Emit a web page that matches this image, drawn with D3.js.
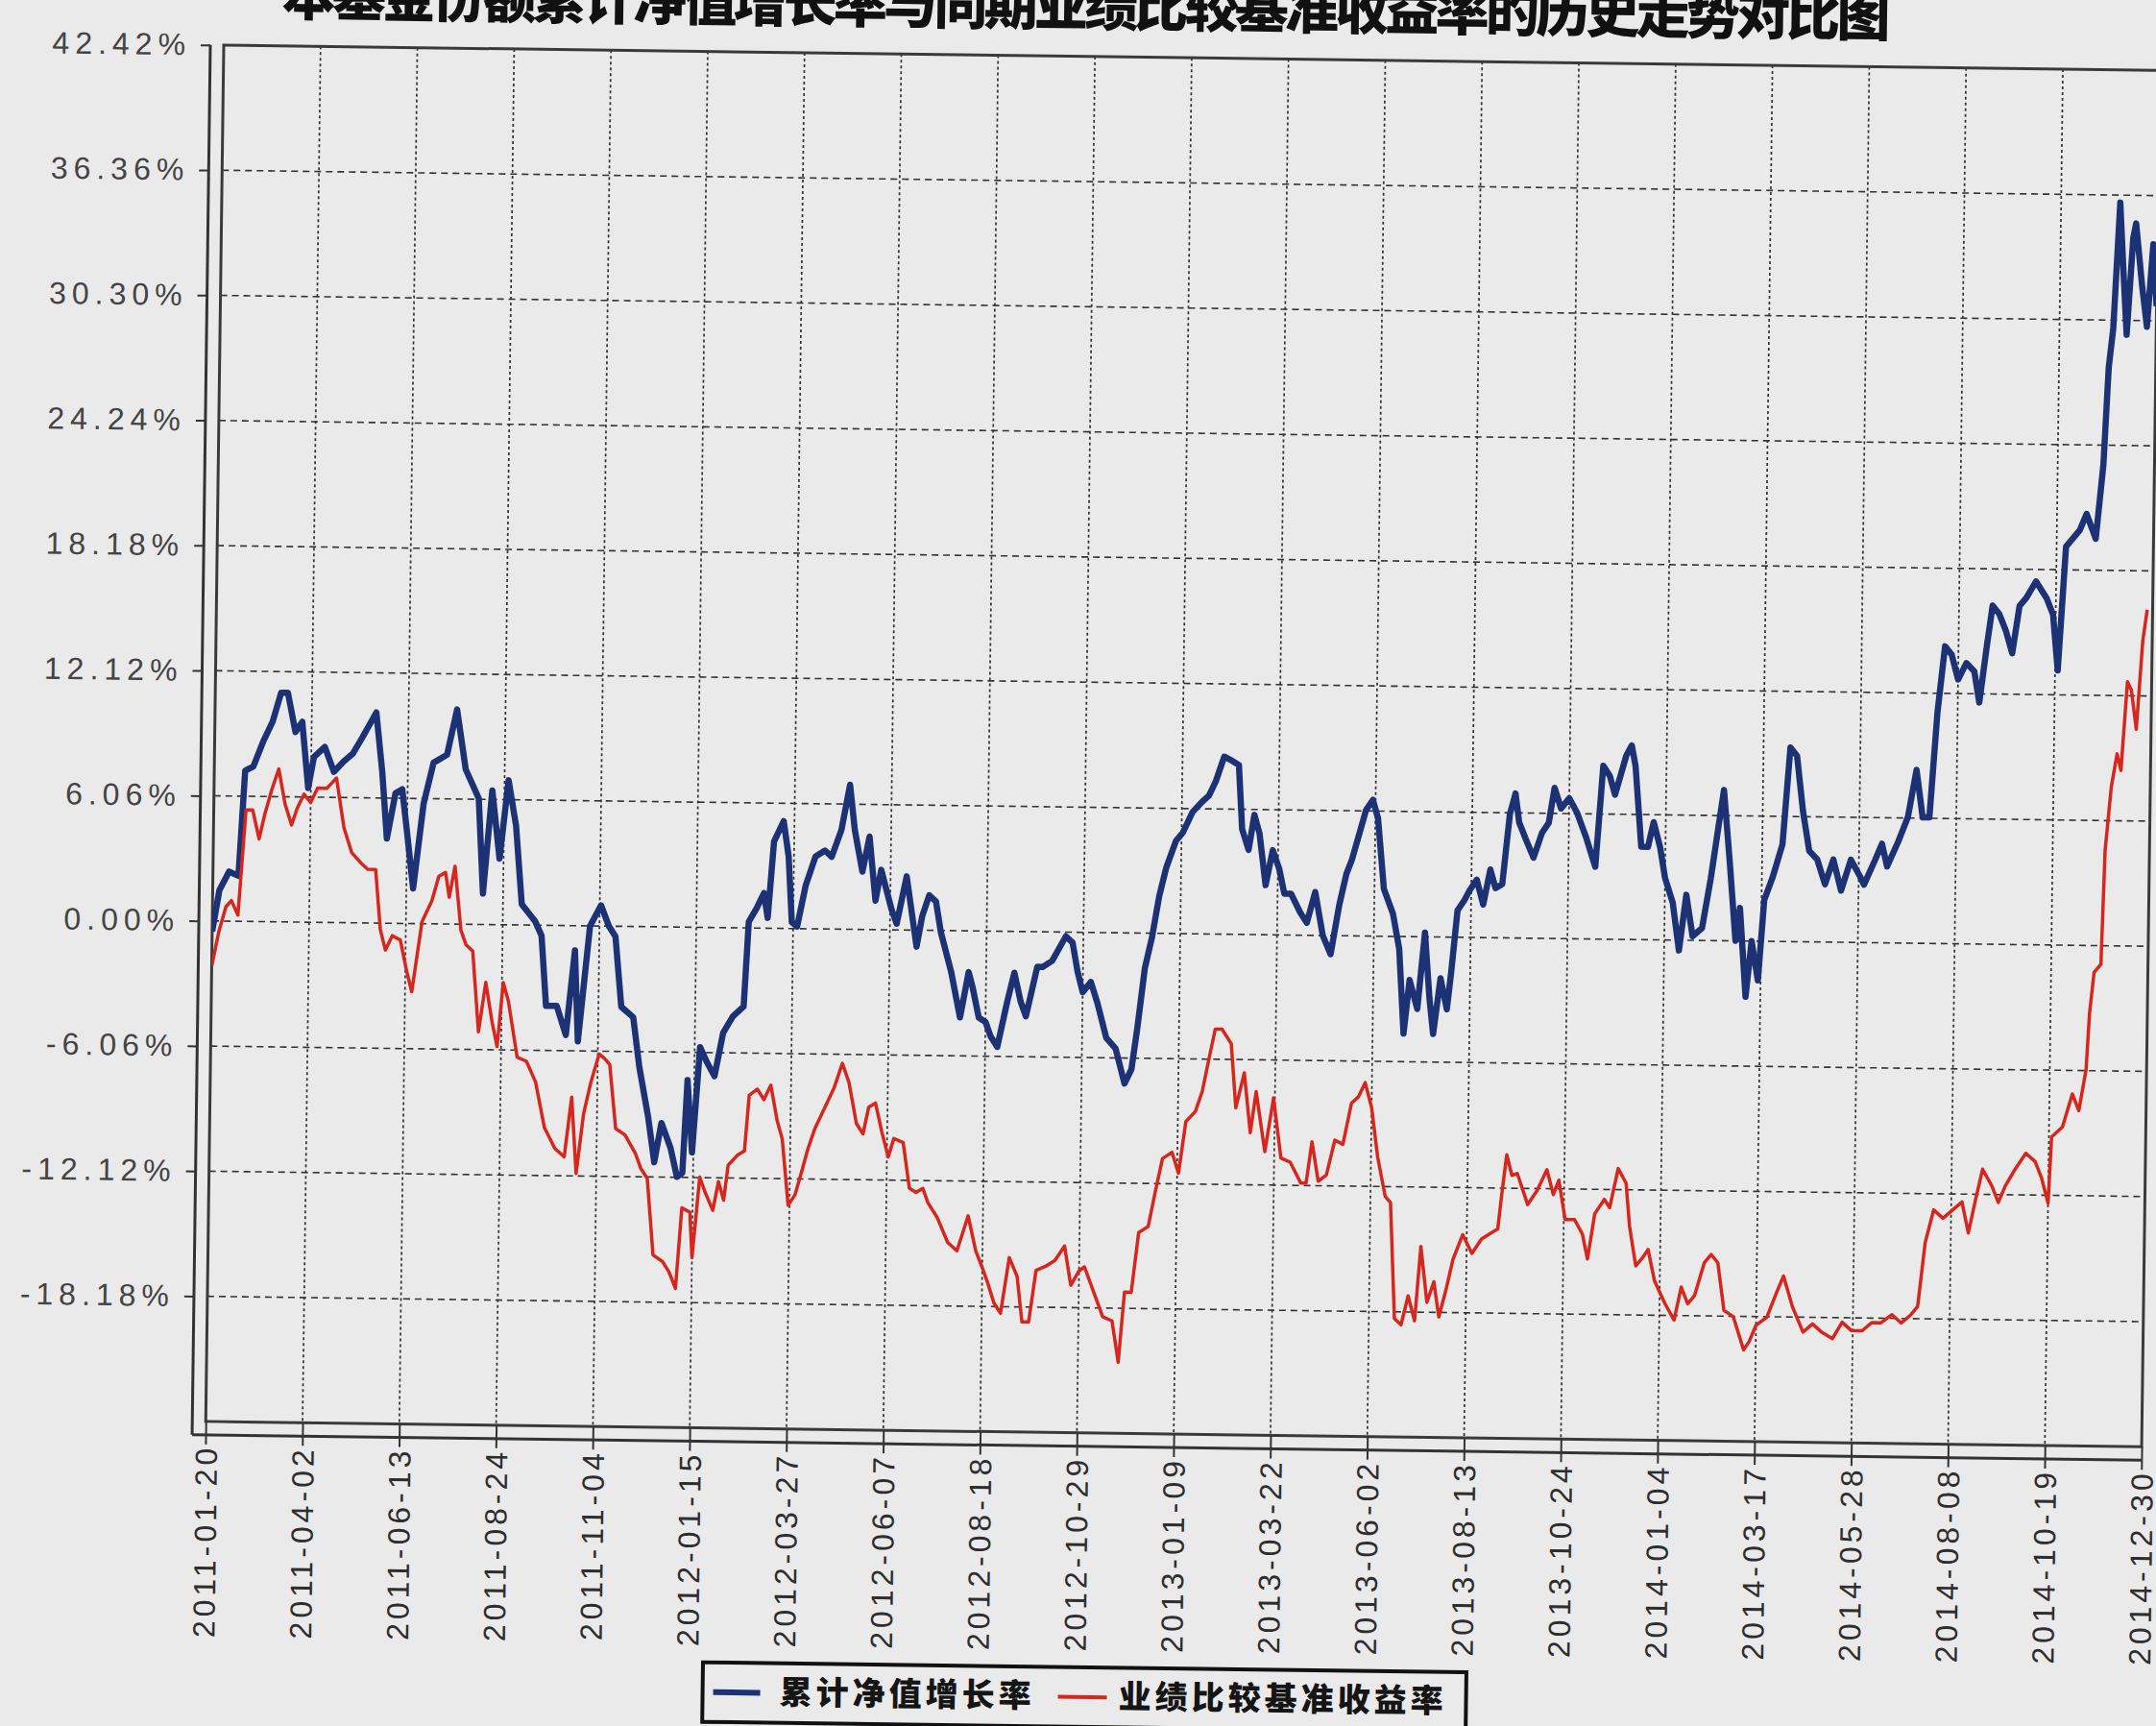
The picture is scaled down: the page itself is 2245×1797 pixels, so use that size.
<!DOCTYPE html>
<html><head><meta charset="utf-8">
<script src="https://cdn.jsdelivr.net/npm/d3@7"></script>
<style>
html,body{margin:0;padding:0;background:#eaeaeb;overflow:hidden}
svg{display:block}
</style></head><body>
<svg id="chart" width="2245" height="1797"></svg>
<script>
// ---------------- data ----------------
const titleText = "本基金份额累计净值增长率与同期业绩比较基准收益率的历史走势对比图";
const seriesNames = ["累计净值增长率", "业绩比较基准收益率"];
const startDate = "2011-01-20";
const xTickLabels = ["2011-01-20","2011-04-02","2011-06-13","2011-08-24","2011-11-04","2012-01-15","2012-03-27","2012-06-07","2012-08-18","2012-10-29","2013-01-09","2013-03-22","2013-06-02","2013-08-13","2013-10-24","2014-01-04","2014-03-17","2014-05-28","2014-08-08","2014-10-19","2014-12-30"];
const yTickLabels = ["42.42%","36.36%","30.30%","24.24%","18.18%","12.12%","6.06%","0.00%","-6.06%","-12.12%","-18.18%"];
const yTickValues = [42.42,36.36,30.30,24.24,18.18,12.12,6.06,0,-6.06,-12.12,-18.18];
const yDomain = [-24.24, 42.42];

// 累计净值增长率 (days after start date, value in %)
const navDays = [0,5,12,19,23,29,36,43,49,54,60,65,70,74,82,89,96,103,110,120,125,129,135,140,144,149,156,163,173,180,187,197,201,207,213,219,225,230,240,245,249,257,264,270,273,281,289,295,300,305,314,319,326,331,336,343,348,352,355,359,
364,369,375,381,388,396,399,405,410,413,417,424,428,431,435,441,448,455,460,467,473,477,483,488,493,497,505,509,516,524,528,533,538,542,550,557,563,566,571,576,580,585,592,597,602,606,614,618,625,635,640,644,648,654,659,666,673,680,685,689,694,699,704,
709,716,721,728,735,740,745,751,757,762,765,770,774,778,783,788,793,797,802,809,814,820,826,832,838,843,847,852,857,862,866,871,878,883,887,891,897,902,906,909,914,919,922,926,931,935,940,945,950,954,959,964,968,971,976,982,988,993,997,1002,1008,1014,1021,1028,1033,1038,1042,1050,1054,
1057,1062,1067,1071,1076,1080,1086,1091,1096,1101,1108,1114,1119,1123,1128,1133,1136,1141,1145,1150,1154,1160,1167,1172,1177,1182,1187,1193,1199,1205,1211,1218,1225,1228,1236,1241,1245,1253,1260,1266,1271,1276,1281,1286,1291,1296,1302,1308,1312,1317,1321,1326,1331,1336,1341,1346,1353,1361,1366,1370,1375,1380,1385,1390,1397,1402,1405,1408,1412,1415,1418,1422,1424,1429,1433,1437,1440];
const navValues = [-0.5,1.5,2.4,2.2,7.3,7.5,8.7,9.7,11.1,11.1,9.2,9.7,6.5,8.0,8.5,7.3,7.8,8.2,9.0,10.2,7.3,4.1,6.3,6.5,4.4,1.7,5.8,7.8,8.2,10.4,7.5,6.1,1.5,6.5,3.2,7.0,4.8,1.0,0.2,-0.5,-3.9,-3.9,-5.3,-1.2,-5.6,0.0,1.0,0.0,-0.5,-3.9,-4.4,-6.8,-9.2,-11.4,-9.5,-10.7,-12.1,-11.9,-7.4,-10.9,
-5.8,-6.5,-7.2,-5.1,-4.3,-3.8,0.3,1.0,1.7,0.5,4.2,5.2,3.5,0.3,0.1,2.1,3.5,3.8,3.5,4.8,7.0,4.8,2.8,4.5,1.4,2.9,1.0,0.3,2.6,-0.8,0.7,1.7,1.4,-0.1,-2.0,-4.2,-2.0,-2.7,-4.2,-4.4,-5.1,-5.6,-3.4,-2.0,-3.4,-4.1,-1.7,-1.7,-1.4,-0.2,-0.5,-1.9,-2.9,-2.4,-3.4,-5.1,-5.6,-7.3,-6.6,-4.6,-1.7,-0.2,1.8,
3.2,4.5,4.9,5.9,6.4,6.7,7.4,8.6,8.4,8.2,5.1,4.1,5.8,4.9,2.4,4.1,3.2,2.0,2.0,1.1,0.6,2.1,0.0,-0.9,1.5,3.0,3.7,4.9,6.1,6.6,5.7,2.3,1.1,-0.6,-4.7,-2.1,-3.5,0.2,-3.0,-4.7,-2.0,-3.5,-1.6,1.3,1.8,2.3,2.8,1.6,3.3,2.4,2.6,6.0,7.0,5.6,4.8,3.9,5.1,5.6,7.3,6.3,6.8,6.1,4.9,3.5,8.4,7.9,7.0,8.9,9.4,
8.4,4.5,4.5,5.7,4.5,3.0,1.8,-0.5,2.2,0.2,0.6,3.0,5.4,7.3,3.8,0.0,1.6,-2.7,0.0,-1.9,2.0,3.1,4.7,9.4,9.0,6.3,4.4,4.0,2.8,4.0,2.5,4.0,3.2,2.8,4.0,4.8,3.7,4.9,6.1,8.4,6.1,6.1,11.2,14.4,14.0,12.8,13.6,13.2,11.7,14.4,16.4,16.0,15.2,14.1,16.4,16.8,17.6,16.8,16.0,13.3,19.3,19.7,20.1,20.9,19.7,23.3,28.0,29.9,36.0,32.7,29.6,34.3,35.0,32.0,30.0,34.0,31.0];

// 业绩比较基准收益率
const benchDays = [0,5,10,14,19,24,29,34,38,43,48,53,58,62,67,72,77,84,91,97,103,110,115,121,125,129,134,140,145,149,156,163,168,173,176,180,185,189,194,199,204,209,213,217,221,228,235,242,249,257,264,269,273,278,283,289,293,297,302,309,317,321,326,331,338,343,348,352,358,360,
365,369,375,379,383,386,393,398,401,407,412,417,422,426,431,436,441,445,450,457,464,470,475,481,486,490,495,500,505,509,516,521,526,531,535,542,550,557,565,571,576,580,585,590,596,602,606,611,616,623,630,637,642,648,652,659,666,673,678,682,687,692,699,704,
709,716,721,726,733,738,743,747,752,759,763,769,774,778,785,791,797,804,812,816,820,825,831,837,843,849,854,859,864,869,875,879,883,888,893,898,902,907,912,916,921,926,933,940,947,954,959,962,965,969,973,981,988,995,1000,1004,1009,1016,1022,1026,1031,1038,1042,1048,1054,
1057,1062,1067,1071,1076,1084,1091,1096,1101,1106,1113,1118,1123,1128,1135,1143,1147,1152,1160,1167,1172,1179,1187,1194,1201,1209,1216,1223,1231,1238,1245,1253,1260,1267,1272,1277,1283,1290,1297,1304,1309,1314,1319,1326,1331,1336,1343,1351,1358,1363,1368,1370,1378,1385,1390,1395,1397,1400,1405,1407,1411,1415,1418,1422,1425,1429,1433,1436];
const benchValues = [-2.2,-0.5,0.7,1.0,0.3,5.4,5.4,4.0,5.2,6.4,7.4,5.7,4.7,5.5,6.2,5.8,6.5,6.5,7.0,4.6,3.4,2.9,2.6,2.6,-0.3,-1.3,-0.6,-0.8,-2.3,-3.3,0.1,1.1,2.3,2.5,1.3,2.8,-0.3,-1.0,-1.3,-5.2,-2.8,-4.7,-5.9,-2.8,-3.7,-6.4,-6.6,-7.6,-9.8,-10.8,-11.2,-8.3,-12.0,-9.1,-7.6,-6.2,-6.4,-6.7,-9.8,-10.1,-11.0,-11.7,-12.2,-15.9,-16.2,-16.7,-17.5,-13.6,-13.8,-16.0,
-12.1,-12.8,-13.7,-12.3,-13.2,-11.5,-11.0,-10.8,-8.1,-7.8,-8.3,-7.6,-9.3,-10.2,-13.4,-12.9,-11.7,-10.7,-9.7,-8.7,-7.7,-6.5,-7.4,-9.4,-9.9,-8.6,-8.4,-9.8,-11.0,-10.1,-10.3,-12.5,-12.7,-12.5,-13.2,-13.9,-15.1,-15.5,-13.8,-15.5,-16.3,-17.0,-18.0,-18.5,-15.8,-16.7,-18.9,-18.9,-16.4,-16.2,-15.9,-15.2,-17.1,-16.4,-16.2,-17.4,-18.6,-18.8,-20.8,-17.4,-17.4,-14.5,-14.2,-12.5,
-10.9,-10.6,-11.6,-9.1,-8.6,-7.6,-5.9,-4.6,-4.6,-5.3,-8.4,-6.7,-9.6,-7.6,-10.5,-7.9,-10.8,-11.0,-12.0,-12.0,-10.0,-11.9,-11.6,-9.9,-10.1,-8.1,-7.8,-7.1,-8.3,-10.7,-12.6,-12.9,-18.5,-18.8,-17.4,-18.6,-15.0,-17.7,-16.7,-18.4,-17.1,-15.6,-14.4,-15.3,-14.6,-14.3,-14.1,-12.2,-10.5,-11.5,-11.4,-12.9,-12.2,-11.2,-12.4,-11.7,-13.6,-13.6,-14.3,-15.5,-13.3,-12.6,-13.0,-11.1,-11.8,
-13.9,-15.8,-15.4,-15.0,-16.5,-17.6,-18.4,-16.8,-17.6,-17.2,-15.6,-15.2,-15.6,-17.9,-18.2,-19.8,-19.4,-18.6,-18.2,-17.0,-16.2,-17.7,-18.9,-18.5,-18.9,-19.2,-18.4,-18.8,-18.8,-18.4,-18.4,-18.0,-18.4,-18.0,-17.6,-14.5,-12.9,-13.3,-12.9,-12.5,-14.0,-12.4,-10.9,-11.7,-12.5,-11.7,-10.9,-10.1,-10.5,-11.3,-12.5,-9.3,-8.8,-7.2,-8.0,-6.0,-3.3,-1.3,-0.9,4.6,7.7,9.3,8.5,12.8,12.4,10.5,14.8,16.3];

// ---------------- layout ----------------
const PL = 233, PT = 47, PW = 2016, PH = 1433, OFF = 14, ROT = 0.75;
const BG = "#eaeaeb";

const parse = d3.timeParse("%Y-%m-%d");
const t0 = parse(startDate);
const tickDates = xTickLabels.map(parse);
const x = d3.scaleTime().domain([tickDates[0], tickDates[tickDates.length - 1]]).range([0, PW]);
const y = d3.scaleLinear().domain(yDomain).range([PH, 0]);

const svg = d3.select("#chart");
svg.append("rect").attr("width", 2245).attr("height", 1797).attr("fill", BG);

const root = svg.append("g").attr("transform", `rotate(${ROT},${PL},${PT})`);

// title (partly cut by the top edge, as in the scan)
root.append("text")
  .attr("x", 293).attr("y", 15)
  .attr("textLength", 1675).attr("lengthAdjust", "spacing")
  .attr("font-family", "'Noto Sans CJK SC', sans-serif")
  .attr("font-weight", 900).attr("font-size", 56).attr("fill", "#111")
  .text(titleText);

const g = root.append("g").attr("transform", `translate(${PL},${PT})`);

svg.append("defs").append("clipPath").attr("id", "clip")
  .append("rect").attr("x", 0).attr("y", 0).attr("width", PW).attr("height", PH);

// grid
const gridColor = "#333";
g.append("g").selectAll("line").data(yTickValues.filter(v => v < yDomain[1] && v > yDomain[0]))
  .join("line")
  .attr("x1", 0).attr("x2", PW).attr("y1", d => y(d)).attr("y2", d => y(d))
  .attr("stroke", gridColor).attr("stroke-width", 1.6).attr("stroke-dasharray", "7,5");
g.append("g").selectAll("line").data(tickDates.slice(1, -1))
  .join("line")
  .attr("x1", d => x(d)).attr("x2", d => x(d)).attr("y1", 0).attr("y2", PH)
  .attr("stroke", gridColor).attr("stroke-width", 1.7).attr("stroke-dasharray", "3,3");

// frame
g.append("rect").attr("x", 0).attr("y", 0).attr("width", PW).attr("height", PH)
  .attr("fill", "none").attr("stroke", "#3a3a3a").attr("stroke-width", 3);

// y axis (offset)
const yAxis = d3.axisLeft(y).tickValues(yTickValues)
  .tickFormat((d, i) => yTickLabels[i]).tickSize(10).tickSizeOuter(0).tickPadding(10);
const ya = g.append("g").attr("transform", `translate(${-OFF},0)`).call(yAxis);
ya.select(".domain").remove();
ya.append("line").attr("x1", 0).attr("x2", 0).attr("y1", 0).attr("y2", PH + OFF)
  .attr("stroke", "#333").attr("stroke-width", 3);
ya.selectAll(".tick line").attr("stroke", "#333").attr("stroke-width", 2);
ya.selectAll(".tick text")
  .attr("font-family", "'Liberation Sans', Arial, sans-serif")
  .attr("font-size", 32).attr("letter-spacing", 6).attr("fill", "#444")
  .attr("dx", 0);

// x axis (offset)
const xAxis = d3.axisBottom(x).tickValues(tickDates)
  .tickFormat((d, i) => xTickLabels[i]).tickSize(10).tickSizeOuter(0);
const xa = g.append("g").attr("transform", `translate(0,${PH + OFF})`).call(xAxis);
xa.select(".domain").remove();
xa.append("line").attr("x1", -OFF).attr("x2", PW).attr("y1", 0).attr("y2", 0)
  .attr("stroke", "#333").attr("stroke-width", 3);
xa.selectAll(".tick line").attr("y1", -OFF).attr("stroke", "#333").attr("stroke-width", 2);
xa.selectAll(".tick text")
  .attr("font-family", "'Liberation Sans', Arial, sans-serif")
  .attr("font-size", 32).attr("letter-spacing", 4).attr("fill", "#2e2e2e")
  .attr("transform", "rotate(-90)")
  .attr("text-anchor", "end")
  .attr("x", -10).attr("y", 0).attr("dy", "0.36em");

// series
const navData = navDays.map((d, i) => ({ date: d3.timeDay.offset(t0, d), v: navValues[i] }));
const benchData = benchDays.map((d, i) => ({ date: d3.timeDay.offset(t0, d), v: benchValues[i] }));
const line = d3.line().x(d => x(d.date)).y(d => y(d.v)).curve(d3.curveLinear);
const plot = g.append("g").attr("clip-path", "url(#clip)");
plot.append("path").datum(navData).attr("d", line)
  .attr("fill", "none").attr("stroke", "#1c3274").attr("stroke-width", 6.5)
  .attr("stroke-linejoin", "round");
plot.append("path").datum(benchData).attr("d", line)
  .attr("fill", "none").attr("stroke", "#d7261d").attr("stroke-width", 3.5)
  .attr("stroke-linejoin", "round");

// legend
const LX = 754, LY = 1724, LW = 795, LH = 62;
const lg = root.append("g").attr("transform", `translate(${LX},${LY})`);
lg.append("rect").attr("width", LW).attr("height", LH).attr("fill", BG)
  .attr("stroke", "#111").attr("stroke-width", 4);
const legendItems = [
  { name: seriesNames[0], color: "#1c3274", w: 6, x0: 11, x1: 60, tx: 80 },
  { name: seriesNames[1], color: "#d7261d", w: 4, x0: 370, x1: 421, tx: 433 }
];
legendItems.forEach(it => {
  lg.append("line").attr("x1", it.x0).attr("x2", it.x1).attr("y1", 31).attr("y2", 31)
    .attr("stroke", it.color).attr("stroke-width", it.w);
  lg.append("text").attr("x", it.tx).attr("y", 33).attr("dominant-baseline", "middle")
    .attr("font-family", "'Noto Sans CJK SC', sans-serif").attr("font-weight", 900)
    .attr("font-size", 34).attr("letter-spacing", 4).attr("fill", "#151515")
    .text(it.name);
});
</script>
</body></html>
